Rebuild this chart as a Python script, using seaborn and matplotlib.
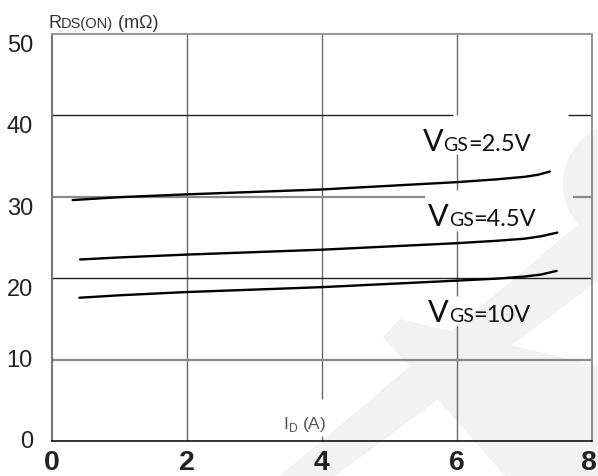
import matplotlib
matplotlib.use("Agg")
import matplotlib.pyplot as plt
import matplotlib.transforms as mtransforms
from matplotlib.offsetbox import TextArea, HPacker, AnnotationBbox
from matplotlib.patches import Polygon, Circle
import numpy as np
import pandas as pd
import seaborn as sns

# ---------------- data ----------------
x_ticks = [0, 2, 4, 6, 8]
y_ticks = [0, 10, 20, 30, 40, 50]

id_25 = [0.31, 1.0, 2.0, 3.0, 4.0, 5.0, 6.0, 6.6, 7.0, 7.2, 7.38]
r_25 = [29.6, 29.95, 30.3, 30.6, 30.9, 31.35, 31.8, 32.15, 32.45, 32.7, 33.1]

id_45 = [0.42, 1.0, 2.0, 3.0, 4.0, 5.0, 6.0, 6.6, 7.0, 7.25, 7.49]
r_45 = [22.3, 22.55, 22.9, 23.2, 23.5, 23.9, 24.3, 24.6, 24.85, 25.15, 25.6]

id_10 = [0.41, 1.0, 2.0, 3.0, 4.0, 5.0, 6.0, 6.6, 7.0, 7.25, 7.48]
r_10 = [17.6, 17.9, 18.3, 18.6, 18.9, 19.3, 19.7, 19.95, 20.2, 20.45, 20.9]

series_names = ["2.5V", "4.5V", "10V"]
series_x = [id_25, id_45, id_10]
series_y = [r_25, r_45, r_10]

df = pd.concat([
    pd.DataFrame({"ID": xs, "RDS": ys, "VGS": name})
    for name, xs, ys in zip(series_names, series_x, series_y)
], ignore_index=True)

# ---------------- style ----------------
sns.set_theme(style="white")
plt.rcParams["font.family"] = ["Liberation Sans", "DejaVu Sans"]
plt.rcParams["mathtext.fontset"] = "custom"
plt.rcParams["mathtext.rm"] = "Liberation Sans"

W, H = 598, 477
fig = plt.figure(figsize=(W / 100, H / 100), dpi=100)
fig.patch.set_facecolor("white")

ax_l, ax_r, ax_t, ax_b = 51.7, 591.7, 35.0, 442.0
ax = fig.add_axes([ax_l / W, 1 - ax_b / H, (ax_r - ax_l) / W, (ax_b - ax_t) / H])
ax.set_facecolor("none")
ax.set_zorder(1)

# ---------------- faint watermark (figure pixels, behind the axes) ----------------
wm = "#f2f2f2"
ident = mtransforms.IdentityTransform()
def P(pts):
    return [(x, H - y) for x, y in pts]
for pts in [
    [(280, 477), (335, 477), (598, 282), (598, 215), (575, 228)],
    [(383, 338), (400, 320), (598, 367), (598, 477), (505, 477)],
]:
    fig.add_artist(Polygon(P(pts), closed=True, facecolor=wm, edgecolor="none",
                           transform=ident, zorder=0))
fig.add_artist(Circle((625, H - 185), 62, facecolor=wm, edgecolor="none",
                      transform=ident, zorder=0))

# ---------------- axes ----------------
ax.set_xlim(0, 8)
ax.set_ylim(0, 50)

# grid lines (broken where the printed labels sit)
vgrid = "#6a6a6a"
ax.vlines(2, 0, 50, color=vgrid, lw=1.0, zorder=1)
ax.vlines([4, 4], [0, 5.2], [0.6, 50], color=vgrid, lw=1.0, zorder=1)
ax.vlines([6, 6, 6, 6], [0, 17.8, 30.8, 40.1], [14.1, 25.8, 35.3, 50],
          color=vgrid, lw=1.0, zorder=1)
ax.hlines([40, 40], [0, 7.65], [5.95, 8], color="#222222", lw=1.0, zorder=1)
ax.hlines([30, 30], [0, 7.72], [5.53, 8], color="#8a8a8a", lw=1.6, zorder=1)
ax.hlines(20, 0, 8, color="#222222", lw=1.0, zorder=1)
ax.hlines(10, 0, 8, color="#8a8a8a", lw=1.6, zorder=1)

sns.lineplot(data=df, x="ID", y="RDS", hue="VGS", units="VGS", estimator=None,
             sort=False, palette=["black"] * 3, legend=False, lw=1.7, ax=ax,
             zorder=3)
for ln in ax.get_lines():
    ln.set_solid_capstyle("round")

ax.set_xlabel("")
ax.set_ylabel("")

# spines
for s, col, lw in [("left", "#777777", 1.5), ("top", "#999999", 1.5),
                   ("right", "#888888", 1.3), ("bottom", "#111111", 1.2)]:
    ax.spines[s].set_visible(True)
    ax.spines[s].set_color(col)
    ax.spines[s].set_linewidth(lw)

ax.set_xticks(x_ticks)
ax.set_yticks(y_ticks)
ax.set_xticklabels([str(v) for v in x_ticks])
ax.set_yticklabels([str(v) for v in y_ticks])
ax.tick_params(axis="x", length=0, pad=5.5, labelsize=20.5, labelcolor="#222222")
ax.tick_params(axis="y", length=0, pad=13.5, labelsize=17, labelcolor="#222222")
xlabels = ax.get_xticklabels()
for lbl in xlabels:
    lbl.set_fontweight("bold")
# keep the last label inside the canvas
xlabels[-1].set_transform(xlabels[-1].get_transform() +
                          mtransforms.ScaledTranslation(-4 / 100, 0, fig.dpi_scale_trans))
for v, lbl in zip(y_ticks, ax.get_yticklabels()):
    lbl.set_va("center" if v <= 10 else "top")

# ---------------- curve labels ----------------
def vgs_label(val, x, y):
    parts = [
        TextArea("V", textprops=dict(fontsize=22, family="Lato", color="#111111")),
        TextArea("GS", textprops=dict(fontsize=14, family="Lato", color="#111111")),
        TextArea("=" + val, textprops=dict(fontsize=17, family="Lato", color="#111111")),
    ]
    box = HPacker(children=parts, align="baseline", pad=0, sep=0)
    ab = AnnotationBbox(box, (x, y), xycoords="data", box_alignment=(0, 0),
                        frameon=False, pad=0, zorder=4)
    ax.add_artist(ab)

vgs_label("2.5V", 5.50, 35.1)
vgs_label("4.5V", 5.575, 25.9)
vgs_label("10V", 5.575, 14.1)

# x-axis title inside plot
ax.text(3.75, 2.2, r"I$_\mathrm{D}$ (A)", fontsize=12.5, color="#555555",
        ha="center", va="center", zorder=4)

# y-axis title at top-left
yparts = [
    TextArea("R", textprops=dict(fontsize=13, color="#333333")),
    TextArea("DS(ON)", textprops=dict(fontsize=10.5, color="#333333")),
    TextArea(" (mΩ)", textprops=dict(fontsize=13, color="#333333")),
]
ybox = HPacker(children=yparts, align="baseline", pad=0, sep=0)
fig.add_artist(AnnotationBbox(ybox, (48, H - 32), xycoords="figure pixels",
                              box_alignment=(0, 0), frameon=False, pad=0))

fig.savefig("out.png", dpi=100)
